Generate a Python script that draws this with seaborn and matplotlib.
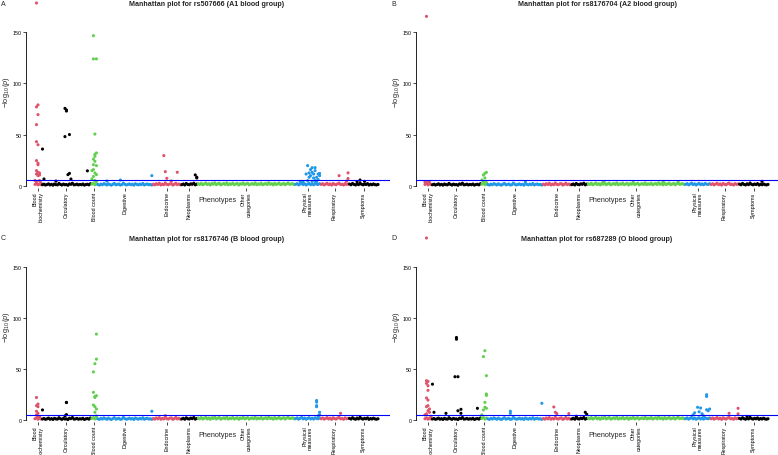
"""
Manhattan plots (PheWAS) para quatro SNPs de grupo sanguíneo ABO.
"""

import matplotlib
matplotlib.use("Agg")
import matplotlib.pyplot as plt
import pandas as pd
import seaborn as sns

_RED = "#DF536B"
_GREEN = "#61D04F"
_BLUE = "#2297E6"
_BLACK = "black"

CATEGORIES = ["Blood biochemistry", "Circulatory", "Blood count", "Digestive",
              "Endocrine", "Neoplasms", "Other categories", "Physical measures",
              "Respiratory", "Symptoms"]
TICK_LABELS = ["Blood\nbiochemistry", "Circulatory", "Blood count", "Digestive",
               "Endocrine", "Neoplasms", "Other\ncategories", "Physical\nmeasures",
               "Respiratory", "Symptoms"]
COLORS = {
    "Blood biochemistry": _RED, "Circulatory": _BLACK, "Blood count": _GREEN,
    "Digestive": _BLUE, "Endocrine": _RED, "Neoplasms": _BLACK,
    "Other categories": _GREEN, "Physical measures": _BLUE,
    "Respiratory": _RED, "Symptoms": _BLACK,
}
THRESHOLD = 5.3

# -log10(p) of the non-significant phenotypes, one value per phenotype
base_bb = [1.2, 2.1, 0.8, 1.7, 1.0]
base_circ = [0.9, 1.4, 0.6, 1.1, 1.8, 0.7, 1.3, 0.5, 1.6, 1.0, 0.8, 2.2, 1.2,
             0.6, 1.5, 0.9, 1.1, 0.4, 1.7, 1.3, 2.4, 0.8, 1.0, 1.5, 0.7, 1.2,
             0.9, 1.6, 0.5, 1.1, 1.4, 0.8, 1.9]
base_bc = [1.5, 2.3, 0.9, 1.8]
base_dig = [1.1, 0.6, 1.5, 0.9, 2.0, 1.3, 0.7, 1.8, 1.0, 0.5, 1.4, 2.2, 0.8,
            1.2, 1.6, 0.6, 1.0, 2.5, 1.3, 0.7, 1.1, 1.7, 0.9, 1.4, 0.5, 1.9,
            1.2, 0.8, 1.5, 1.0, 2.1, 0.7, 1.3, 1.6, 0.9, 1.2, 0.6]
base_endo = [1.4, 0.8, 1.9, 1.1, 2.3, 0.7, 1.5, 1.0, 2.6, 1.2, 0.9, 1.7, 2.0,
             0.6, 1.3, 2.4, 1.0, 1.6, 0.8]
base_neo = [1.0, 1.6, 0.7, 2.1, 1.2, 0.9, 1.8, 1.3, 2.4, 0.8, 1.5]
base_other = [1.8, 1.2, 2.3, 0.9, 1.6, 2.6, 1.1, 1.9, 0.7, 2.2, 1.4, 2.8, 1.0,
              1.7, 2.4, 0.8, 1.5, 2.1, 1.2, 2.7, 0.9, 1.8, 1.3, 2.5, 1.0, 1.6,
              2.2, 0.7, 1.9, 1.4, 2.6, 1.1, 1.7, 2.3, 0.8, 1.5, 2.0, 1.2, 2.7,
              1.0, 1.8, 1.3, 2.4, 0.9, 1.6, 2.1, 1.1, 2.8, 1.4, 1.9, 0.8, 2.3,
              1.2, 1.7, 2.5, 1.0, 1.5, 2.2, 0.9, 1.8, 2.6, 1.3, 1.6, 2.0, 1.1]
base_phys = [1.3, 2.0, 0.8, 1.6, 2.4, 1.1, 1.8, 0.7, 1.5, 2.2, 1.0, 1.7, 0.9,
             2.1, 1.4, 1.2, 1.9]
base_resp = [1.2, 1.9, 0.8, 1.5, 2.3, 1.0, 1.7, 0.6, 2.1, 1.3, 0.9, 1.8, 2.5,
             1.1, 1.4, 0.7, 2.0, 1.2, 1.6]
base_symp = [1.5, 0.9, 2.2, 1.2, 0.7, 1.8, 1.0, 2.6, 1.3, 0.8, 1.6, 1.1, 2.0,
             0.6, 1.4, 0.9, 1.7, 1.0, 0.7, 1.2]

BASE = dict(zip(CATEGORIES, [base_bb, base_circ, base_bc, base_dig, base_endo,
                             base_neo, base_other, base_phys, base_resp, base_symp]))

# (phenotype index in category, -log10(p)) of the associated phenotypes
hits_a = {
    "Blood biochemistry": [(1, 178.7), (2, 79.0), (1, 77.0), (2, 69.5), (1, 59.7),
                           (1, 43.0), (2, 40.0), (1, 24.5), (2, 22.0), (2, 20.5),
                           (1, 14.7), (2, 13.0), (3, 12.4), (1, 11.4), (3, 10.4),
                           (2, 9.8), (0, 5.0), (3, 5.0), (1, 3.5), (4, 2.8)],
    "Circulatory": [(0, 35.8), (1, 6.5), (15, 75.6), (16, 74.0), (16, 73.0),
                    (15, 48.0), (18, 50.0), (18, 12.0), (17, 10.8), (19, 6.5),
                    (9, 4.5), (30, 14.5)],
    "Blood count": [(1, 146.7), (1, 124.0), (3, 124.0), (2, 50.5), (3, 32.0),
                    (2, 30.6), (2, 28.7), (1, 26.0), (2, 23.8), (1, 20.5),
                    (3, 19.6), (1, 15.7), (0, 14.7), (2, 12.4), (3, 10.8),
                    (1, 9.0), (0, 6.5), (2, 5.0), (3, 4.0)],
    "Digestive": [(36, 9.8), (15, 5.5), (6, 4.5)],
    "Endocrine": [(7, 29.4), (8, 13.7), (16, 13.1), (9, 7.2), (12, 4.5)],
    "Neoplasms": [(9, 10.5), (10, 8.3), (10, 7.5)],
    "Physical measures": [(8, 19.6), (11, 17.6), (13, 17.6), (10, 15.7), (13, 14.7),
                          (9, 12.4), (11, 13.0), (12, 11.4), (7, 11.4), (15, 11.4),
                          (10, 9.8), (16, 12.0), (16, 9.8), (9, 8.2), (12, 7.5),
                          (14, 8.2), (8, 4.9), (13, 5.0), (15, 6.0), (3, 4.0),
                          (5, 3.5), (11, 4.2), (14, 3.8)],
    "Respiratory": [(12, 9.8), (18, 12.5), (18, 7.0), (17, 4.5)],
    "Symptoms": [(7, 5.5), (10, 4.2), (5, 4.0)],
}
hits_b = {
    "Blood biochemistry": [(1, 165.6), (0, 3.5), (2, 4.0), (1, 2.8), (3, 3.2)],
    "Blood count": [(3, 13.0), (2, 12.0), (1, 10.4), (2, 7.5), (0, 5.5),
                    (1, 4.0), (3, 3.0)],
    "Digestive": [(25, 3.5)],
    "Other categories": [(10, 3.5), (30, 3.2), (50, 3.6), (60, 3.4)],
    "Symptoms": [(15, 4.2)],
}
hits_c = {
    "Blood biochemistry": [(1, 22.0), (2, 15.6), (1, 14.0), (2, 13.0), (1, 8.5),
                           (2, 6.5), (1, 5.0), (2, 4.0), (3, 3.0)],
    "Circulatory": [(0, 9.8), (16, 17.2), (16, 17.0), (16, 5.2), (15, 4.0)],
    "Blood count": [(3, 84.0), (3, 59.5), (2, 55.0), (1, 47.0), (1, 27.0),
                    (3, 23.8), (2, 23.0), (2, 22.0), (1, 14.6), (2, 13.0),
                    (3, 10.7), (2, 7.5), (3, 4.0)],
    "Digestive": [(36, 8.5)],
    "Endocrine": [(8, 4.2)],
    "Physical measures": [(14, 19.0), (14, 17.5), (14, 14.0), (14, 13.0),
                          (16, 7.5), (16, 5.0), (15, 4.0)],
    "Respiratory": [(13, 6.5)],
}
hits_d = {
    "Blood biochemistry": [(1, 178.0), (1, 38.4), (2, 37.7), (1, 35.8), (2, 33.5),
                           (2, 29.0), (1, 21.5), (2, 19.5), (2, 14.0), (1, 13.0),
                           (3, 10.7), (2, 9.0), (3, 7.5), (1, 6.0), (0, 5.0),
                           (4, 3.5)],
    "Circulatory": [(0, 35.0), (16, 80.7), (16, 79.0), (15, 42.3), (17, 42.3),
                    (17, 9.0), (19, 10.4), (19, 6.5), (30, 11.4), (9, 6.5),
                    (1, 7.5)],
    "Blood count": [(2, 67.7), (1, 62.0), (3, 43.3), (3, 25.4), (3, 24.0),
                    (2, 17.2), (2, 12.4), (3, 11.4), (1, 9.8), (0, 5.0)],
    "Digestive": [(15, 8.5), (15, 6.5), (36, 16.3)],
    "Endocrine": [(7, 12.7), (8, 7.5), (9, 6.2), (17, 6.2)],
    "Neoplasms": [(3, 3.6), (9, 7.5), (10, 5.5)],
    "Physical measures": [(14, 24.7), (14, 23.0), (8, 12.4), (10, 11.7), (14, 10.0),
                          (15, 9.0), (16, 10.7), (9, 8.0), (11, 6.0), (6, 7.0),
                          (5, 5.0), (12, 4.0)],
    "Respiratory": [(12, 6.5), (18, 11.4), (18, 6.0)],
    "Symptoms": [(5, 3.5)],
}

PANELS = [
    ("A", "Manhattan plot for rs507666 (A1 blood group)", hits_a, 0, 0),
    ("B", "Manhattan plot for rs8176704 (A2 blood group)", hits_b, 390, 0),
    ("C", "Manhattan plot for rs8176746 (B blood group)", hits_c, 0, 234.3),
    ("D", "Manhattan plot for rs687289 (O blood group)", hits_d, 390, 234.3),
]

W, H = 778, 456
AX_TOP, AX_BOTTOM = 27.2, 188.5


def fx(px):
    return px / W


def fy(py):
    return 1 - py / H


def build_frame(hits):
    rows = []
    offset = 0
    for cat in CATEGORIES:
        for i, v in enumerate(BASE[cat]):
            rows.append((offset + i, v, cat))
        for i, v in hits.get(cat, []):
            rows.append((offset + i, v, cat))
        offset += len(BASE[cat])
    return pd.DataFrame(rows, columns=["x", "logp", "category"])


sns.set_theme(style="white")
plt.rcParams["font.family"] = ["Liberation Sans", "DejaVu Sans"]
plt.rcParams["mathtext.fontset"] = "custom"
plt.rcParams["mathtext.rm"] = "Liberation Sans"
plt.rcParams["mathtext.it"] = "Liberation Sans:italic"

sizes = [len(BASE[c]) for c in CATEGORIES]
starts = [sum(sizes[:k]) for k in range(len(sizes))]
centers = [s + (n - 1) / 2 for s, n in zip(starts, sizes)]
total = sum(sizes)

fig = plt.figure(figsize=(W / 100, H / 100), dpi=100)
fig.patch.set_facecolor("white")

for letter, title, hits, ox, oy in PANELS:
    df = build_frame(hits)
    ax = fig.add_axes([fx(ox + 26), fy(oy + AX_BOTTOM), 364 / W,
                       (AX_BOTTOM - AX_TOP) / H])
    ax.set_facecolor("white")
    sns.scatterplot(data=df, x="x", y="logp", hue="category", palette=COLORS,
                    s=5, linewidth=0, legend=False, ax=ax, clip_on=False,
                    zorder=3)
    ax.axhline(THRESHOLD, color="blue", lw=0.8, zorder=4)
    ax.set_xlim(-6.0, total - 1 + 8.0)
    ax.set_ylim(-1.8, 156)

    for side in ("top", "right", "bottom"):
        ax.spines[side].set_visible(False)
    ax.spines["left"].set_bounds(0, 150)
    ax.spines["left"].set_linewidth(0.6)
    ax.spines["left"].set_color("black")

    ax.set_yticks([0, 50, 100, 150])
    ax.tick_params(axis="y", labelsize=3.8, length=2.2, width=0.5, pad=1,
                   left=True, colors="black")
    ax.set_xticks(centers)
    ax.set_xticklabels(TICK_LABELS, rotation=90, fontsize=3.8,
                       multialignment="right")
    ax.tick_params(axis="x", length=1.8, width=0.5, pad=1.0, bottom=True,
                   colors="black")
    ax.set_xlabel("")
    ax.set_ylabel("")
    ax.grid(False)

    fig.text(fx(ox + 207), fy(oy + 5), title, ha="center", va="center",
             fontsize=5.1, fontweight="bold")
    fig.text(fx(ox + 1), fy(oy + 4), letter, ha="left", va="center",
             fontsize=5)
    fig.text(fx(ox + 7), fy(oy + 92.5), r"$-\log_{10}(p)$", rotation=90,
             ha="center", va="center", fontsize=5.3)
    fig.text(fx(ox + 217.5), fy(oy + 201), "Phenotypes", ha="center",
             va="center", fontsize=5.2)

fig.savefig("out.png", dpi=100)
plt.close(fig)
